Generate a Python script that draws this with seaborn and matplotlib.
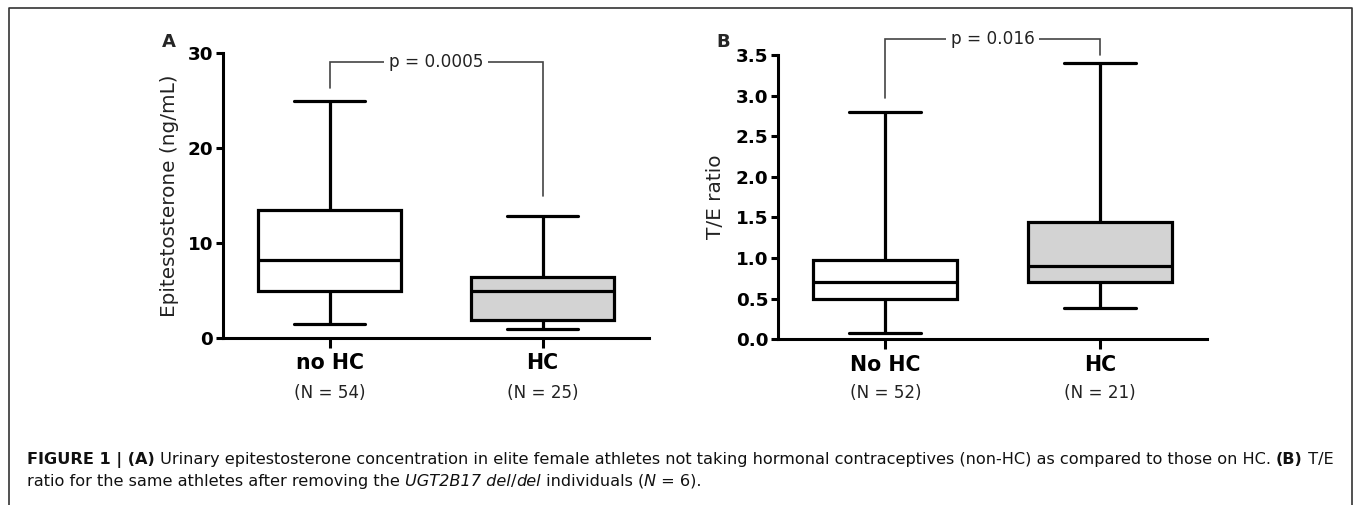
import numpy as np
import pandas as pd
import matplotlib
matplotlib.use("Agg")
import matplotlib.pyplot as plt
from matplotlib.lines import Line2D
import seaborn as sns

# ---------------- data (five-number summaries) -------------
groups_a = ["no HC", "HC"]
n_a = [54, 25]
a_nohc = [1.5, 4.9, 8.2, 13.5, 25.0]    # min, Q1, median, Q3, max
a_hc = [0.9, 1.9, 4.9, 6.45, 12.8]
p_a = "p = 0.0005"
bracket_a = [26.3, 29.1, 14.9]           # left leg end, top, right leg end

groups_b = ["No HC", "HC"]
n_b = [52, 21]
b_nohc = [0.08, 0.50, 0.70, 0.98, 2.80]
b_hc = [0.39, 0.70, 0.90, 1.45, 3.40]
p_b = "p = 0.016"
bracket_b = [2.97, 3.70, 3.50]

yticks_a = [0, 10, 20, 30]
yticks_b = [0.0, 0.5, 1.0, 1.5, 2.0, 2.5, 3.0, 3.5]
ylabel_a = "Epitestosterone (ng/mL)"
ylabel_b = "T/E ratio"

df_a = pd.DataFrame({"group": [groups_a[0]] * 5 + [groups_a[1]] * 5,
                     "value": a_nohc + a_hc})
df_b = pd.DataFrame({"group": [groups_b[0]] * 5 + [groups_b[1]] * 5,
                     "value": b_nohc + b_hc})

# ---------------- style ----------------
sns.set_style("ticks")
plt.rcParams["font.family"] = ["DejaVu Sans"]

W, H = 1355, 505
fig = plt.figure(figsize=(W / 100, H / 100), dpi=100)


def px_rect(x0, y_top, x1, y_bot):
    return [x0 / W, 1 - y_bot / H, (x1 - x0) / W, (y_bot - y_top) / H]


ax_a = fig.add_axes(px_rect(223, 53, 649, 338))
ax_b = fig.add_axes(px_rect(778, 55, 1207, 339.3))

fills = ["white", "#d3d3d3"]


def panel(ax, df, groups, ns, yticks, ylabel, fmt, pstr, br, letter, lx,
          ylab_x, n_y):
    sns.boxplot(data=df, x="group", y="value", hue="group", order=groups,
                hue_order=groups, palette=fills, saturation=1, whis=(0, 100),
                width=0.67, linecolor="black", linewidth=2.3, legend=False,
                showfliers=False, ax=ax)
    ax.set_xlim(-0.5, 1.5)
    ax.set_ylim(yticks[0], yticks[-1])
    ax.set_yticks(yticks)
    ax.set_yticklabels([fmt.format(t) for t in yticks], fontsize=13.2,
                       fontweight="bold")
    ax.set_xticks([0, 1])
    ax.set_xticklabels(groups, fontsize=14.8, fontweight="bold")
    ax.set_xlabel("")
    ax.set_ylabel(ylabel, fontsize=14.4, color="#222222")
    ax.yaxis.set_label_coords(ylab_x, 0.5)
    for s in ["top", "right"]:
        ax.spines[s].set_visible(False)
    for s in ["left", "bottom"]:
        ax.spines[s].set_linewidth(2.2)
        ax.spines[s].set_color("black")
    ax.tick_params(axis="x", length=7, width=2.2, pad=4, colors="black")
    ax.tick_params(axis="y", length=5, width=2.2, pad=2, colors="black")
    for i, n in enumerate(ns):
        ax.text(i, n_y, f"(N = {n})", transform=ax.get_xaxis_transform(),
                ha="center", va="center", fontsize=12.1, color="#222222")
    # significance bracket
    ax.plot([0, 0, 1, 1], [br[0], br[1], br[1], br[2]], color="#444444",
            lw=1.2, clip_on=False, solid_joinstyle="miter")
    ax.text(0.5, br[1], pstr, ha="center", va="center", fontsize=12.2,
            color="#222222",
            bbox=dict(boxstyle="square,pad=0.3", fc="white", ec="none"))
    fig.text(lx / W, 1 - 42 / H, letter, fontsize=13, fontweight="bold",
             ha="center", va="center")


panel(ax_a, df_a, groups_a, n_a, yticks_a, ylabel_a, "{:d}", p_a, bracket_a,
      "A", 169, -0.103, -0.193)
panel(ax_b, df_b, groups_b, n_b, yticks_b, ylabel_b, "{:.1f}", p_b, bracket_b,
      "B", 723, -0.124, -0.189)

# ---------------- frame ----------------
fc = "#333333"
fig.add_artist(Line2D([9 / W, 9 / W, 1352 / W, 1352 / W],
                      [0, 1 - 8 / H, 1 - 8 / H, 0], transform=fig.transFigure,
                      color=fc, lw=1.2))

# ---------------- caption ----------------
renderer = fig.canvas.get_renderer()


def width_of(s, size, **kw):
    t1 = fig.text(0, 0, "|" + s + "|", fontsize=size, **kw)
    t2 = fig.text(0, 0, "||", fontsize=size, **kw)
    w = t1.get_window_extent(renderer).width - t2.get_window_extent(renderer).width
    t1.remove()
    t2.remove()
    return w


def draw_line(pieces, x0, y_base, size):
    x = x0
    for s, kw in pieces:
        fig.text(x / W, 1 - y_base / H, s, fontsize=size, va="baseline",
                 ha="left", color="#111111", **kw)
        x += width_of(s, size, **kw)
    return x


B = dict(fontweight="bold")
N = dict()
I = dict(fontstyle="italic")
line1 = [("FIGURE 1 | (A)", B),
         (" Urinary epitestosterone concentration in elite female athletes not "
          "taking hormonal contraceptives (non-HC) as compared to those on HC. ", N),
         ("(B)", B), (" T/E", N)]
line2 = [("ratio for the same athletes after removing the ", N),
         ("UGT2B17 del", I), ("/", N), ("del", I), (" individuals (", N),
         ("N", I), (" = 6).", N)]

x_start, x_end = 27, 1330
size0 = 12.0
total = sum(width_of(s, size0, **kw) for s, kw in line1)
cap_size = size0 * (x_end - x_start) / total
draw_line(line1, x_start, 464, cap_size)
draw_line(line2, x_start, 486, cap_size)

fig.savefig("out.png", dpi=100)
